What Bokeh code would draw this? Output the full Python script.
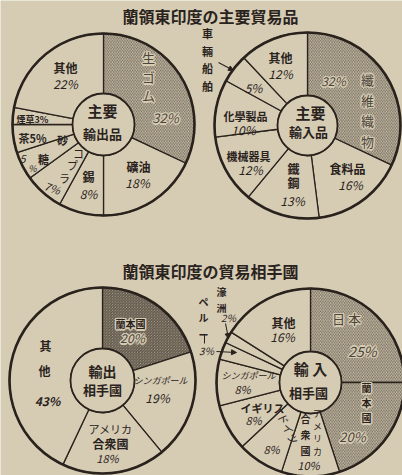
import math
from bokeh.plotting import figure
from bokeh.models import Range1d, Arrow, NormalHead
from bokeh.core.properties import value
from bokeh.embed import file_html
from bokeh.resources import INLINE

# ---------------- data ----------------
title_goods = "蘭領東印度の主要貿易品"
title_partners = "蘭領東印度の貿易相手國"

exp_goods = ["生ゴム", "礦油", "錫", "コプラ", "砂糖", "茶", "煙草", "其他"]
exp_goods_pct = [32, 18, 8, 7, 5, 5, 3, 22]
exp_goods_hatched = [True, False, False, False, False, False, False, False]

imp_goods = ["纖維織物", "食料品", "鐵鋼", "機械器具", "化學製品", "車輛船舶", "其他"]
imp_goods_pct = [32, 16, 13, 12, 10, 5, 12]
imp_goods_hatched = [True, False, False, False, False, False, False]

exp_partners = ["蘭本國", "シンガポール", "アメリカ合衆國", "其他"]
exp_partners_pct = [20, 19, 18, 43]
exp_partners_hatched = [True, False, False, False]

imp_partners = ["日本", "蘭本國", "アメリカ合衆國", "ドイツ", "イギリス", "シンガポール", "ペルー", "濠洲", "其他"]
imp_partners_pct = [25, 20, 10, 8, 8, 8, 3, 2, 16]
imp_partners_hatched = [True, True, False, False, False, False, False, False, False]

# ---------------- style ----------------
PAPER = "#d6ccb4"
INK = "#2a231d"
SOFT = "#4d443a"
HATCH = "#4f463c"
FONT = "Noto Sans CJK JP"
W, H = 402, 475


def X(rx):
    return rx


def Y(ry):
    return H - ry


p = figure(width=W, height=H, output_backend="svg", toolbar_location=None,
           x_range=Range1d(0, W), y_range=Range1d(0, H), min_border=0,
           x_axis_location=None, y_axis_location=None,
           background_fill_color=PAPER, border_fill_color=PAPER,
           outline_line_color=None)
p.grid.visible = False


def pie(cx, cy, r, ri, values, hatched, hscale=3.3, hweight=0.7):
    tot = float(sum(values))
    cum = 0.0
    for v, h in zip(values, hatched):
        c0 = cum / tot
        cum += v
        c1 = cum / tot
        s = math.pi / 2 - 2 * math.pi * c1
        e = math.pi / 2 - 2 * math.pi * c0
        kw = dict(x=[X(cx)], y=[Y(cy)], inner_radius=ri, outer_radius=r,
                  start_angle=[s], end_angle=[e], fill_color=PAPER,
                  line_color=INK, line_width=1.3)
        if h:
            kw.update(hatch_pattern="\\", hatch_color=HATCH, hatch_scale=hscale,
                      hatch_weight=hweight)
        p.annular_wedge(**kw)
    p.circle(x=[X(cx)], y=[Y(cy)], radius=r, fill_color=None, line_color=INK,
             line_width=2.6)
    p.circle(x=[X(cx)], y=[Y(cy)], radius=ri, fill_color=PAPER, line_color=INK,
             line_width=1.8)


def _text(x, y, txt, size, style, angle, color, lh):
    p.text(x=[x], y=[y], text=[txt], text_font=value(FONT),
           text_font_size=f"{size}px", text_font_style=style,
           text_align="center", text_baseline="middle", text_color=color,
           angle=math.radians(angle), text_line_height=lh)


def lbl(rx, ry, txt, size=12, italic=False, bold=False, angle=0, color=INK,
        lh=1.05, halo=False):
    style = "normal"
    if italic and bold:
        style = "bold italic"
    elif italic:
        style = "italic"
    elif bold:
        style = "bold"
    if halo:
        for dx, dy in [(-1.5, 0), (1.5, 0), (0, -1.5), (0, 1.5),
                       (-1, -1), (1, 1), (-1, 1), (1, -1)]:
            _text(X(rx) + dx, Y(ry) + dy, txt, size, style, angle, PAPER, lh)
    _text(X(rx), Y(ry), txt, size, style, angle, color, lh)


def vert(s):
    return "\n".join(list(s))


def arrow(x0, y0, x1, y1):
    p.add_layout(Arrow(end=NormalHead(size=5, fill_color=INK, line_color=INK),
                       x_start=X(x0), y_start=Y(y0), x_end=X(x1), y_end=Y(y1),
                       line_color=INK, line_width=1.1))


# ---------------- pies ----------------
pie(103, 124, 91, 31, exp_goods_pct, exp_goods_hatched)
pie(307, 125, 93, 30, imp_goods_pct, imp_goods_hatched)
pie(102, 380, 93, 32, exp_partners_pct, exp_partners_hatched, hscale=2.8, hweight=1.0)
pie(310, 382, 94, 31, imp_partners_pct, imp_partners_hatched)

# ---------------- titles ----------------
lbl(210, 15, title_goods, 16, bold=True)
lbl(210, 270, title_partners, 16, bold=True)

# ---------------- chart 1 : exports ----------------
lbl(148, 76, vert(exp_goods[0]), 13, color=SOFT, lh=1.0, halo=True)
lbl(165, 117, f"{exp_goods_pct[0]}%", 13, italic=True, color=SOFT, halo=True)
lbl(138, 166, exp_goods[1], 12, bold=True)
lbl(137, 182, f"{exp_goods_pct[1]}%", 12, italic=True)
lbl(88, 176, exp_goods[2], 12, bold=True)
lbl(88, 193, f"{exp_goods_pct[2]}%", 12, italic=True)
for ch, (rx, ry) in zip(exp_goods[3], [(78, 152), (72, 164), (64, 177)]):
    lbl(rx, ry, ch, 11)
lbl(52, 187, f"{exp_goods_pct[3]}%", 11, italic=True, angle=-20)
lbl(62, 139, exp_goods[4][0], 11, bold=True)
lbl(43, 158, exp_goods[4][1], 11, bold=True)
lbl(22, 158, str(exp_goods_pct[4]), 11, italic=True)
lbl(32, 168, "%", 9, italic=True)
lbl(32, 137, f"{exp_goods[5]}{exp_goods_pct[5]}%", 11, bold=True)
lbl(32, 119, f"{exp_goods[6]}{exp_goods_pct[6]}%", 9, bold=True)
lbl(65, 67, exp_goods[7], 12, bold=True)
lbl(65, 83, f"{exp_goods_pct[7]}%", 12, italic=True)
lbl(102, 110, "主要", 15, bold=True)
lbl(102, 133, "輸出品", 13, bold=True)

# ---------------- chart 2 : imports ----------------
lbl(367, 110, vert(imp_goods[0]), 13, color=SOFT, lh=1.1, halo=True)
lbl(333, 80, f"{imp_goods_pct[0]}%", 12, italic=True, color=SOFT, halo=True)
lbl(347, 168, imp_goods[1], 12, bold=True)
lbl(350, 184, f"{imp_goods_pct[1]}%", 12, italic=True)
lbl(293, 168, imp_goods[2][0], 12, bold=True)
lbl(293, 182, imp_goods[2][1], 12, bold=True)
lbl(292, 200, f"{imp_goods_pct[2]}%", 12, italic=True)
lbl(248, 155, imp_goods[3], 11, bold=True)
lbl(250, 169, f"{imp_goods_pct[3]}%", 12, italic=True)
lbl(245, 115, imp_goods[4], 11, bold=True)
lbl(243, 129, f"{imp_goods_pct[4]}%", 12, italic=True)
lbl(253, 87, f"{imp_goods_pct[5]}%", 12, italic=True)
lbl(207, 59, vert(imp_goods[5]), 11, bold=True, lh=1.1)
arrow(218, 62, 233, 70)
lbl(280, 57, imp_goods[6], 12, bold=True)
lbl(280, 73, f"{imp_goods_pct[6]}%", 12, italic=True)
lbl(310, 112, "主要", 15, bold=True)
lbl(308, 131, "輸入品", 13, bold=True)

# ---------------- chart 3 : export partners ----------------
lbl(130, 323, exp_partners[0], 10, bold=True, halo=True)
lbl(132, 337, f"{exp_partners_pct[0]}%", 12, italic=True, color=SOFT, halo=True)
lbl(160, 380, exp_partners[1], 9, italic=True)
lbl(157, 397, f"{exp_partners_pct[1]}%", 12, italic=True)
lbl(110, 428, exp_partners[2][:4], 11)
lbl(110, 443, exp_partners[2][4:], 12, bold=True)
lbl(107, 457, f"{exp_partners_pct[2]}%", 11, italic=True)
lbl(45, 345, exp_partners[3][0], 12, bold=True)
lbl(44, 370, exp_partners[3][1], 12, bold=True)
lbl(47, 400, f"{exp_partners_pct[3]}%", 12, italic=True, bold=True)
lbl(102, 370, "輸出", 14, bold=True)
lbl(102, 389, "相手國", 13, bold=True)

# ---------------- chart 4 : import partners ----------------
lbl(346, 318, " ".join(imp_partners[0]), 13, color=SOFT, halo=True)
lbl(362, 350, f"{imp_partners_pct[0]}%", 14, italic=True, color=SOFT, halo=True)
lbl(366, 402, vert(imp_partners[1]), 10, bold=True, lh=1.0, halo=True)
lbl(352, 436, f"{imp_partners_pct[1]}%", 13, italic=True, color=SOFT, halo=True)
lbl(317, 432, vert(imp_partners[2][:4]), 9, lh=0.95)
lbl(305, 434, vert(imp_partners[2][4:]), 10, bold=True, lh=1.05)
lbl(308, 464, f"{imp_partners_pct[2]}%", 11, italic=True)
lbl(288, 428, imp_partners[3], 11, angle=-65)
lbl(271, 448, f"{imp_partners_pct[3]}%", 11, italic=True)
lbl(262, 407, imp_partners[4], 11, bold=True)
lbl(253, 419, f"{imp_partners_pct[4]}%", 11, italic=True)
lbl(248, 375, imp_partners[5], 9, italic=True)
lbl(242, 388, f"{imp_partners_pct[5]}%", 11, italic=True)
lbl(203, 317, vert(imp_partners[6]), 10, bold=True, lh=1.1)
p.segment(x0=[X(204)], y0=[Y(334)], x1=[X(204)], y1=[Y(343)], line_color=INK, line_width=1)
lbl(206, 350, f"{imp_partners_pct[6]}%", 10, italic=True)
arrow(216, 351, 236, 352)
lbl(221, 299, vert(imp_partners[7]), 10, bold=True, lh=1.05)
lbl(228, 317, f"{imp_partners_pct[7]}%", 10, italic=True)
arrow(225, 323, 228, 338)
lbl(283, 322, imp_partners[8], 12, bold=True)
lbl(282, 336, f"{imp_partners_pct[8]}%", 12, italic=True)
lbl(310, 368, "輸 入", 15, bold=True)
lbl(308, 392, "相手國", 13, bold=True)

open("out.html", "w").write(file_html(p, INLINE))
